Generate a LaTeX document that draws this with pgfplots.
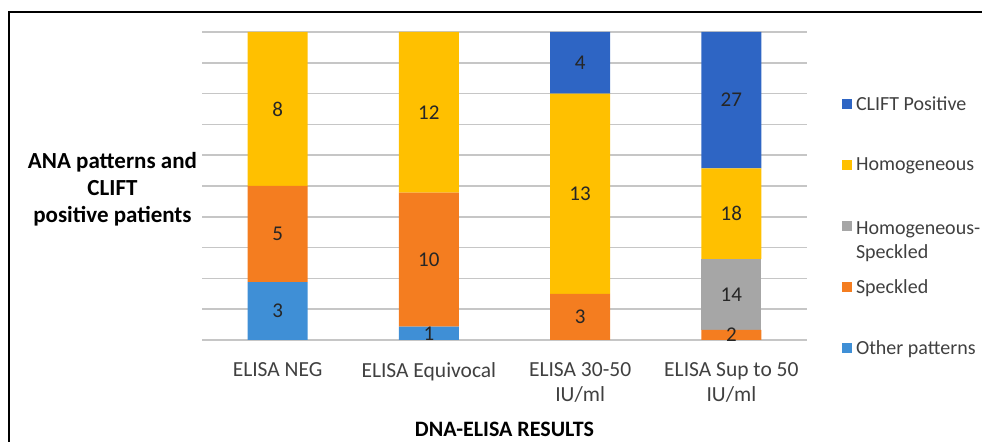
\documentclass[border=0pt]{standalone}
\usepackage{fontspec}
\setmainfont{Carlito}
\usepackage{pgfplots}
\pgfplotsset{compat=1.18}
\definecolor{cBlue}{HTML}{2E65C4}
\definecolor{cYellow}{HTML}{FFC000}
\definecolor{cGray}{HTML}{A6A6A6}
\definecolor{cOrange}{HTML}{F47D20}
\definecolor{cLight}{HTML}{3F8FD6}
\definecolor{cGrid}{HTML}{C6C6C6}
\definecolor{cText}{HTML}{404040}
\begin{document}
\begin{tikzpicture}
\useasboundingbox (0bp,0bp) rectangle (982bp,442bp);
\begin{axis}[
  at={(202bp,102bp)}, anchor=south west,
  scale only axis, width=605bp, height=308bp,
  ybar stacked, bar width=60bp,
  xmin=-0.5, xmax=3.5, ymin=0, ymax=100,
  enlargelimits=false,
  /pgf/number format/assume math mode=true,
  xtick={0,1,2,3},
  xticklabels={{ELISA NEG},{ELISA Equivocal},{ELISA 30-50\\IU/ml},{ELISA Sup to 50\\IU/ml}},
  xticklabel style={font=\fontsize{21.5bp}{25bp}\selectfont, text=cText, align=center, anchor=north, yshift=-19bp},
  ytick={0,10,...,100},
  yticklabel={\relax},
  ymajorgrids,
  major grid style={cGrid, line width=1.6bp},
  axis line style={draw=none},
  tick style={draw=none},
  xlabel={DNA-ELISA RESULTS},
  ylabel={ANA patterns and\\CLIFT\\positive patients},
  every axis x label/.style={at={(rel axis cs:0.5,-0.289)}, anchor=center, font=\fontsize{22bp}{25bp}\selectfont\bfseries},
  every axis y label/.style={at={(rel axis cs:-0.148,0.49)}, anchor=center, align=center, font=\fontsize{23bp}{27bp}\selectfont\bfseries},
  point meta=explicit,
  nodes near coords={\pgfmathfloatifflags{\pgfplotspointmeta}{0}{}{\pgfmathprintnumber{\pgfplotspointmeta}}},
  every node near coord/.append style={anchor=center, font=\fontsize{21bp}{25bp}\selectfont, text=black!85},
  legend style={draw=none, fill=none, at={(rel axis cs:1.0576,0.7985)}, anchor=north west, row sep=42bp, column sep=2bp, inner xsep=0pt, inner ysep=0pt, nodes={text=cText, font=\fontsize{20bp}{24bp}\selectfont}},
  legend cell align=left,
  reverse legend,
  legend image code/.code={\fill[#1] (0bp,-5bp) rectangle (10bp,5bp);},
]
\addplot[fill=cLight, draw=none] coordinates {(0,18.75)[3] (1,4.35)[1] (2,0)[0] (3,0)[0]};
\addlegendentry{Other patterns}
\addplot[fill=cOrange, draw=none] coordinates {(0,31.25)[5] (1,43.48)[10] (2,15)[3] (3,3.28)[2]};
\addlegendentry{Speckled}
\addplot[fill=cGray, draw=none] coordinates {(0,0)[0] (1,0)[0] (2,0)[0] (3,22.95)[14]};
\addlegendentry{\raisebox{-3bp}[14bp][0pt]{\begin{tabular}[t]{@{}l@{}}Homogeneous-\\Speckled\end{tabular}}}
\addplot[fill=cYellow, draw=none] coordinates {(0,50)[8] (1,52.17)[12] (2,65)[13] (3,29.51)[18]};
\addlegendentry{Homogeneous}
\addplot[fill=cBlue, draw=none] coordinates {(0,0)[0] (1,0)[0] (2,20)[4] (3,44.26)[27]};
\addlegendentry{CLIFT Positive}
\end{axis}
\draw[line width=2bp] (9bp,-20bp) rectangle (1000bp,429.5bp);
\end{tikzpicture}
\end{document}
